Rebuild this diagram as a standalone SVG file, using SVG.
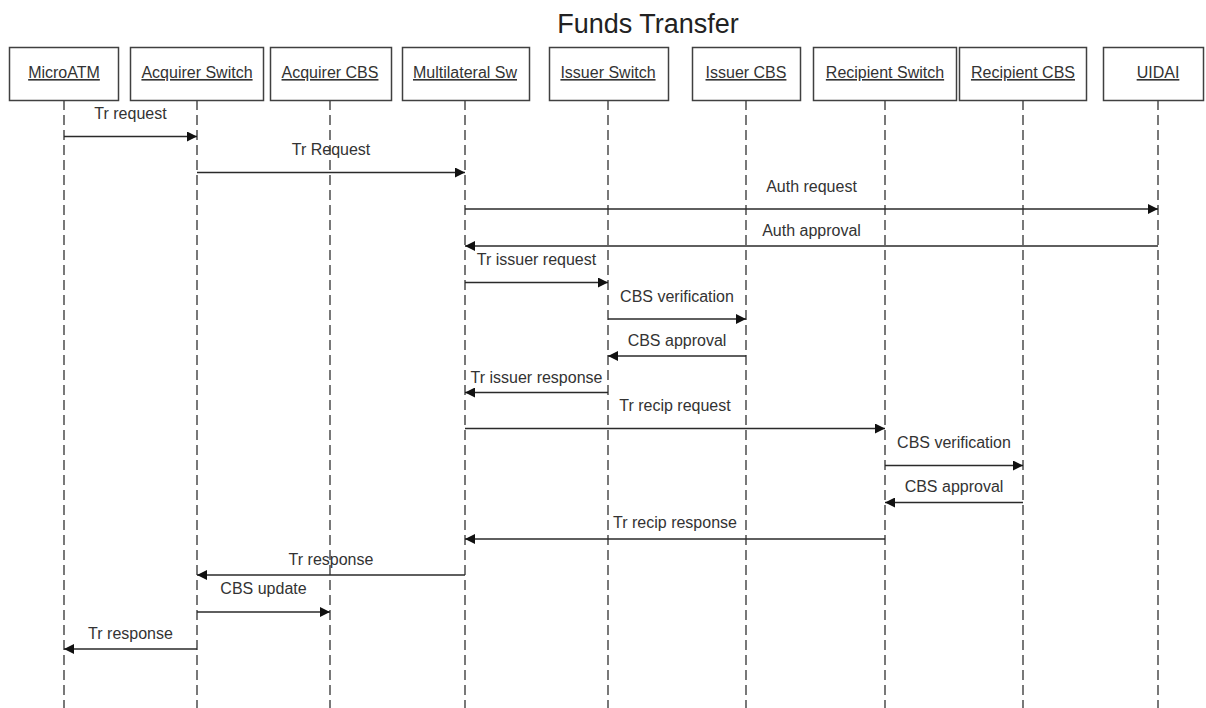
<svg xmlns="http://www.w3.org/2000/svg" width="1206" height="708" viewBox="0 0 1206 708">
<style>
.bg{fill:#ffffff}
.title{font-family:"Liberation Sans",Arial,sans-serif;font-size:27px;fill:#222;text-anchor:middle}
.box{fill:#ffffff;stroke:#404040;stroke-width:1.5}
.name{font-family:"Liberation Sans",Arial,sans-serif;font-size:16px;fill:#333;text-anchor:middle;text-decoration:underline}
.life{stroke:#404040;stroke-width:1.4;stroke-dasharray:10 5;fill:none}
.msg{stroke:#2a2a2a;stroke-width:1.4;fill:none;marker-end:url(#ah)}
.lbl{font-family:"Liberation Sans",Arial,sans-serif;font-size:16px;fill:#333;text-anchor:middle}
</style>
<defs>
<marker id="ah" markerUnits="userSpaceOnUse" markerWidth="10" markerHeight="10" viewBox="0 0 10 10" refX="10" refY="5" orient="auto">
<path d="M0,0 L10,5 L0,10 Z" fill="#111"/>
</marker>
</defs>
<rect class="bg" x="0" y="0" width="1206" height="708"/>
<text class="title" x="648" y="33">Funds Transfer</text>
<g id="lifelines">
<line class="life" x1="64" y1="100" x2="64" y2="708"/>
<line class="life" x1="197" y1="100" x2="197" y2="708"/>
<line class="life" x1="330" y1="100" x2="330" y2="708"/>
<line class="life" x1="465" y1="100" x2="465" y2="708"/>
<line class="life" x1="608" y1="100" x2="608" y2="708"/>
<line class="life" x1="746" y1="100" x2="746" y2="708"/>
<line class="life" x1="885" y1="100" x2="885" y2="708"/>
<line class="life" x1="1023" y1="100" x2="1023" y2="708"/>
<line class="life" x1="1158" y1="100" x2="1158" y2="708"/>
</g>
<g id="node-microatm"><rect class="box" x="9.5" y="47.5" width="109" height="53"/><text class="name" x="64" y="78">MicroATM</text></g>
<g id="node-acquirer-switch"><rect class="box" x="130.5" y="47.5" width="133" height="53"/><text class="name" x="197" y="78">Acquirer Switch</text></g>
<g id="node-acquirer-cbs"><rect class="box" x="270.5" y="47.5" width="121" height="53"/><text class="name" x="330" y="78">Acquirer CBS</text></g>
<g id="node-multilateral"><rect class="box" x="402.5" y="47.5" width="127" height="53"/><text class="name" x="465" y="78">Multilateral Sw</text></g>
<g id="node-issuer-switch"><rect class="box" x="549.5" y="47.5" width="119" height="53"/><text class="name" x="608" y="78">Issuer Switch</text></g>
<g id="node-issuer-cbs"><rect class="box" x="692.5" y="47.5" width="108" height="53"/><text class="name" x="746" y="78">Issuer CBS</text></g>
<g id="node-recipient-switch"><rect class="box" x="813.5" y="47.5" width="143" height="53"/><text class="name" x="885" y="78">Recipient Switch</text></g>
<g id="node-recipient-cbs"><rect class="box" x="959.5" y="47.5" width="127" height="53"/><text class="name" x="1023" y="78">Recipient CBS</text></g>
<g id="node-uidai"><rect class="box" x="1103.5" y="47.5" width="100" height="53"/><text class="name" x="1158" y="78">UIDAI</text></g>
<g id="connectors">
<line class="msg" x1="64" y1="136.5" x2="197" y2="136.5"/>
<text class="lbl" x="130.5" y="119">Tr request</text>
<line class="msg" x1="197" y1="172.5" x2="465" y2="172.5"/>
<text class="lbl" x="331" y="155">Tr Request</text>
<line class="msg" x1="465" y1="209" x2="1158" y2="209"/>
<text class="lbl" x="811.5" y="192">Auth request</text>
<line class="msg" x1="1158" y1="246" x2="465" y2="246"/>
<text class="lbl" x="811.5" y="236">Auth approval</text>
<line class="msg" x1="465" y1="282.5" x2="608" y2="282.5"/>
<text class="lbl" x="536.5" y="265">Tr issuer request</text>
<line class="msg" x1="608" y1="319" x2="746" y2="319"/>
<text class="lbl" x="677" y="302">CBS verification</text>
<line class="msg" x1="746" y1="356" x2="608" y2="356"/>
<text class="lbl" x="677" y="346">CBS approval</text>
<line class="msg" x1="608" y1="392.5" x2="465" y2="392.5"/>
<text class="lbl" x="536.5" y="383">Tr issuer response</text>
<line class="msg" x1="465" y1="428.5" x2="885" y2="428.5"/>
<text class="lbl" x="675" y="411">Tr recip request</text>
<line class="msg" x1="885" y1="465.5" x2="1023" y2="465.5"/>
<text class="lbl" x="954" y="448">CBS verification</text>
<line class="msg" x1="1023" y1="502.5" x2="885" y2="502.5"/>
<text class="lbl" x="954" y="492">CBS approval</text>
<line class="msg" x1="885" y1="539" x2="465" y2="539"/>
<text class="lbl" x="675" y="528">Tr recip response</text>
<line class="msg" x1="465" y1="575" x2="197" y2="575"/>
<text class="lbl" x="331" y="565">Tr response</text>
<line class="msg" x1="197" y1="612" x2="330" y2="612"/>
<text class="lbl" x="263.5" y="594">CBS update</text>
<line class="msg" x1="197" y1="649" x2="64" y2="649"/>
<text class="lbl" x="130.5" y="639">Tr response</text>
</g>
</svg>
